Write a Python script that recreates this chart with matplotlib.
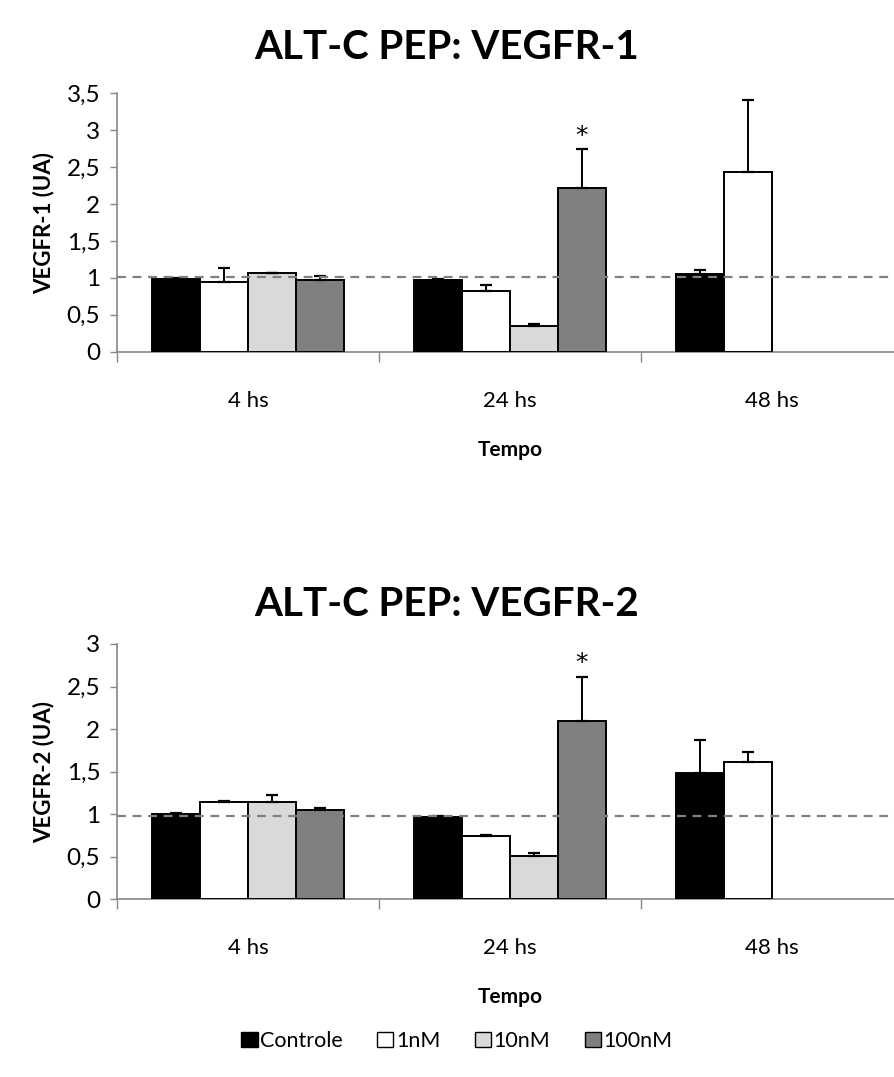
import matplotlib
matplotlib.use("Agg")
import matplotlib.pyplot as plt
from matplotlib.patches import Patch
import numpy as np

plt.rcParams['font.family'] = ['Lato', 'DejaVu Sans']

# ---- data ----
times = ["4 hs", "24 hs", "48 hs"]
series = ["Controle", "1nM", "10nM", "100nM"]
colors = ["#000000", "#ffffff", "#d9d9d9", "#808080"]

# VEGFR-1 (UA); None = no bar
v1_controle = [0.99, 0.97, 1.05]
v1_1nM = [0.95, 0.82, 2.44]
v1_10nM = [1.06, 0.35, None]
v1_100nM = [0.97, 2.22, None]
v1_err_controle = [0.01, 0.02, 0.05]
v1_err_1nM = [0.19, 0.08, 0.97]
v1_err_10nM = [0.01, 0.03, None]
v1_err_100nM = [0.05, 0.52, None]

# VEGFR-2 (UA)
v2_controle = [1.00, 0.97, 1.49]
v2_1nM = [1.14, 0.74, 1.61]
v2_10nM = [1.14, 0.51, None]
v2_100nM = [1.05, 2.10, None]
v2_err_controle = [0.01, 0.01, 0.38]
v2_err_1nM = [0.02, 0.02, 0.12]
v2_err_10nM = [0.09, 0.03, None]
v2_err_100nM = [0.02, 0.51, None]

W, H = 894, 1077
fig = plt.figure(figsize=(W / 100, H / 100), dpi=100)


def px_axes(left, top, right, bottom):
    return fig.add_axes([left / W, 1 - bottom / H, (right - left) / W, (bottom - top) / H])


def draw_panel(ax, vals, errs, ymax, ylabel, title, ref, star_y, title_pad):
    n = len(series)
    bw = 48 / 262
    x = np.arange(len(times))
    for i in range(n):
        xs, hs, es = [], [], []
        for j in range(len(times)):
            if vals[i][j] is not None:
                xs.append(x[j] + (i - (n - 1) / 2) * bw)
                hs.append(vals[i][j])
                es.append(errs[i][j])
        ax.bar(xs, hs, width=bw, color=colors[i], edgecolor="black",
               linewidth=1.4, zorder=3)
        ax.errorbar(xs, hs, yerr=[np.zeros(len(es)), es], fmt="none",
                    ecolor="black", elinewidth=1.4, capsize=4, capthick=1.6, zorder=4)
    ax.axhline(ref, color="#808080", linestyle=(0, (4, 3)), linewidth=1.6, zorder=5)
    # significance mark above the 100nM bar at 24 hs
    xi = x[1] + (3 - (n - 1) / 2) * bw
    ax.text(xi, star_y, "*", ha="center", va="center", fontsize=18, family="DejaVu Sans")

    ax.set_xlim(-0.5, len(times) - 0.5)
    ax.set_ylim(0, ymax)
    ax.set_yticks(np.arange(0, ymax + 0.01, 0.5))
    ax.set_yticklabels([("%g" % v).replace(".", ",") for v in np.arange(0, ymax + 0.01, 0.5)],
                       fontsize=17.5)
    ax.set_xticks(np.arange(-0.5, len(times) + 0.5, 1.0))
    ax.set_xticklabels([])
    ax.set_xticks(x, minor=True)
    ax.set_xticklabels(times, minor=True, fontsize=16)
    ax.tick_params(axis="x", which="major", length=7, color="#888888", width=1)
    ax.tick_params(axis="x", which="minor", length=0, pad=28)
    ax.tick_params(axis="y", length=5, color="#888888", width=1, pad=7)
    for s in ["top", "right"]:
        ax.spines[s].set_visible(False)
    for s in ["left", "bottom"]:
        ax.spines[s].set_color("#888888")
        ax.spines[s].set_linewidth(1.2)
    ax.set_ylabel(ylabel, fontsize=16, fontweight="bold", labelpad=9)
    ax.set_xlabel("Tempo", fontsize=15, fontweight="bold", labelpad=21)
    ax.set_title(title, fontsize=29, fontweight="bold", pad=title_pad,
                 x=(447 - 117) / (903 - 117))


ax1 = px_axes(117, 93.3, 903, 351.7)
draw_panel(ax1,
           [v1_controle, v1_1nM, v1_10nM, v1_100nM],
           [v1_err_controle, v1_err_1nM, v1_err_10nM, v1_err_100nM],
           3.5, "VEGFR-1 (UA)", "ALT-C PEP: VEGFR-1", 1.01, 2.92, 25)

ax2 = px_axes(117, 644, 903, 899.3)
draw_panel(ax2,
           [v2_controle, v2_1nM, v2_10nM, v2_100nM],
           [v2_err_controle, v2_err_1nM, v2_err_10nM, v2_err_100nM],
           3.0, "VEGFR-2 (UA)", "ALT-C PEP: VEGFR-2", 0.98, 2.78, 20)

handles = [Patch(facecolor=c, edgecolor="black", linewidth=1.0) for c in colors]
fig.legend(handles, series, loc="center", bbox_to_anchor=(457 / W, 1 - 1041 / H),
           ncol=4, frameon=False, fontsize=15.5, handlelength=0.75, handleheight=0.75,
           handletextpad=0.12, columnspacing=1.6)

fig.savefig("out.png", dpi=100)
